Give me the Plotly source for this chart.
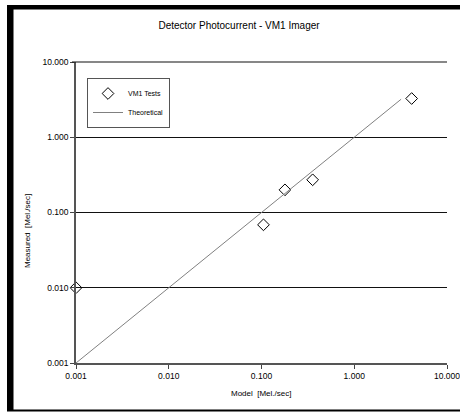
import plotly.graph_objects as go

# Data
test_x = [0.001, 0.105, 0.179, 0.356, 4.16]
test_y = [0.010, 0.0686, 0.200, 0.272, 3.27]
theory_x = [0.001, 3.2]
theory_y = [0.001, 3.2]
tick_vals = [0.001, 0.01, 0.1, 1, 10]
tick_text = ["0.001", "0.010", "0.100", "1.000", "10.000"]

W, H = 460, 412
L, R, T, B = 76, 13, 62, 49
pw, ph = W - L - R, H - T - B

def px(x):
    return (x - L) / pw

def py(y):
    return (H - B - y) / ph

font = "Liberation Sans, Arial, sans-serif"

fig = go.Figure()
fig.add_trace(go.Scatter(
    x=test_x, y=test_y, mode="markers", name="VM1 Tests",
    marker=dict(symbol="diamond-open", size=9, color="black", line=dict(width=1)),
    cliponaxis=False,
))
fig.add_trace(go.Scatter(
    x=theory_x, y=theory_y, mode="lines", name="Theoretical",
    line=dict(color="#808080", width=1),
))

axis_common = dict(
    type="log", range=[-3, 1], tickvals=tick_vals, ticktext=tick_text,
    tickfont=dict(family=font, size=8.5, color="black"),
    ticks="outside", ticklen=4, tickcolor="#444",
    showline=True, linecolor="#555", linewidth=1.5, mirror=False,
    automargin=False, ticklabeloverflow="allow",
)

fig.update_layout(
    width=W, height=H,
    margin=dict(l=L, r=R, t=T, b=B, autoexpand=False),
    paper_bgcolor="white", plot_bgcolor="white",
    font=dict(family=font, size=9, color="black"),
    title=dict(text="Detector Photocurrent - VM1 Imager", x=239 / W, xanchor="center",
               y=1 - 25 / H, yanchor="middle", font=dict(size=10, family=font),
               automargin=False),
    xaxis=dict(**axis_common, showgrid=False, zeroline=False),
    yaxis=dict(**axis_common, showgrid=True, gridcolor="#111", gridwidth=1.2, zeroline=False),
    showlegend=True,
    legend=dict(x=px(87), y=py(78), xanchor="left", yanchor="top",
                bgcolor="white", bordercolor="#555", borderwidth=1,
                font=dict(size=7, family=font), itemwidth=30,
                tracegroupgap=0),
)

fig.add_annotation(text="Model  [Mel./sec]", xref="paper", yref="paper",
                   x=px(261), y=py(394), showarrow=False,
                   font=dict(size=8, family=font), xanchor="center", yanchor="middle")
fig.add_annotation(text="Measured  [Mel./sec]", xref="paper", yref="paper",
                   x=px(27), y=py(231), showarrow=False, textangle=-90,
                   font=dict(size=8, family=font), xanchor="center", yanchor="middle")

# top gridline at 10 (edge)
fig.add_shape(type="line", xref="paper", yref="paper", x0=px(72), x1=px(447),
              y0=1, y1=1, line=dict(color="#111", width=1.2))

# black frame
fig.add_shape(type="rect", xref="paper", yref="paper", x0=px(7), x1=px(13.5),
              y0=py(411), y1=py(5), fillcolor="black", line=dict(width=0))
fig.add_shape(type="rect", xref="paper", yref="paper", x0=px(7), x1=px(460),
              y0=py(9.5), y1=py(5), fillcolor="black", line=dict(width=0))
fig.add_shape(type="rect", xref="paper", yref="paper", x0=px(7), x1=px(460),
              y0=py(411.5), y1=py(409.5), fillcolor="black", line=dict(width=0))

fig.write_html("out.html", config={"displayModeBar": False},
               post_script="document.body.style.margin='0';")
